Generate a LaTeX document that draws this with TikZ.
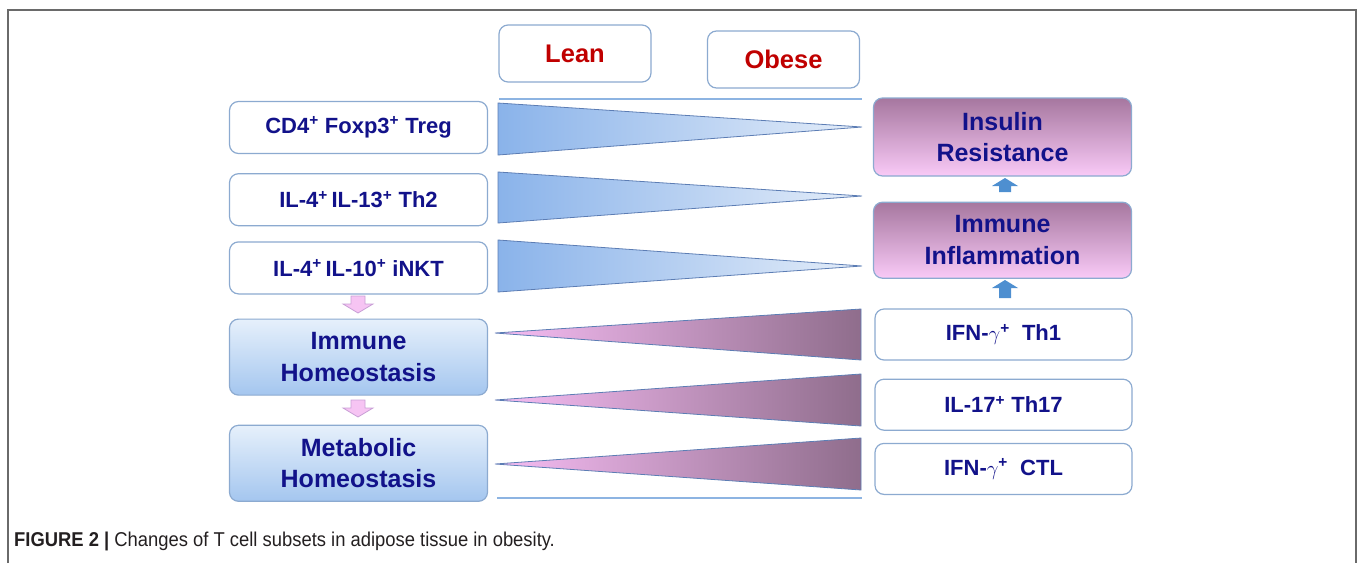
\documentclass[tikz,border=0pt]{standalone}
\usepackage{fontspec}
\setmainfont{Liberation Sans}
\newfontfamily\capfont[FakeStretch=0.92]{Liberation Sans}
\definecolor{navytext}{HTML}{12128A}
\definecolor{leanred}{HTML}{C00000}
\definecolor{boxedge}{HTML}{8CAAD0}
\definecolor{rulegray}{HTML}{6A6A6A}
\definecolor{skyline}{HTML}{8DB4E2}
\definecolor{wedgeblue}{HTML}{8AB3EA}
\definecolor{wedgepale}{HTML}{E4EDF9}
\definecolor{wedgepink}{HTML}{F7BDF4}
\definecolor{wedgemauve}{HTML}{8F6D8C}
\definecolor{wedgeedge}{HTML}{5C7DB4}
\definecolor{homeotop}{HTML}{E6F0FB}
\definecolor{homeobot}{HTML}{A4C6EF}
\definecolor{resisttop}{HTML}{A6779F}
\definecolor{resistbot}{HTML}{F9CAF7}
\definecolor{arrowpink}{HTML}{F6C4F3}
\definecolor{arrowpinkedge}{HTML}{C9A0D6}
\definecolor{arrowblue}{HTML}{4E8FD0}
\definecolor{captext}{HTML}{231F20}
\usetikzlibrary{positioning,calc}

\tikzset{
  cellbox/.style={draw=boxedge, line width=1.2pt, rounded corners=9pt, fill=white,
    minimum width=258pt, minimum height=52pt, text=navytext, align=center,
    font=\bfseries\fontsize{22}{26}\selectfont},
  statebox/.style={cellbox, minimum width=152pt, minimum height=57pt, text=leanred,
    font=\bfseries\fontsize{25.5}{30}\selectfont},
  homeobox/.style={cellbox, top color=homeotop, bottom color=homeobot, minimum height=76pt,
    font=\bfseries\fontsize{25}{31.5}\selectfont},
  outcomebox/.style={homeobox, top color=resisttop, bottom color=resistbot},
}

\begin{document}
\begin{tikzpicture}[x=1pt,y=-1pt]
\useasboundingbox (0,0) rectangle (1357,563);
\draw[rulegray,line width=1.6pt] (8,563) -- (8,10) -- (1356,10) -- (1356,563);

% lean / obese headers
\node[statebox] (lean) at (575,53.5) {Lean};
\node[statebox] (obese) at (783.5,59.5) {Obese};
\draw[skyline,line width=1.3pt] (499,99) -- (862,99);
\draw[skyline,line width=1.3pt] (497,498) -- (862,498);

% left column
\node[cellbox] (treg) at (358.5,127.5) {CD4\textsuperscript{+} Foxp3\textsuperscript{+} Treg};
\node[cellbox, below=19pt of treg] (thtwo) {IL-4\textsuperscript{+}\,IL-13\textsuperscript{+} Th2};
\node[cellbox, below=15pt of thtwo] (inkt) {IL-4\textsuperscript{+}\,IL-10\textsuperscript{+} iNKT};
\node[homeobox, below=24pt of inkt] (immhomeo) {Immune\\Homeostasis};
\node[homeobox, below=29pt of immhomeo] (methomeo) {Metabolic\\Homeostasis};

% right column
\node[outcomebox, minimum height=78pt] (insulin) at (1002.5,137) {Insulin\\Resistance};
\node[outcomebox, below=25pt of insulin] (inflam) {Immune\\Inflammation};
\node[cellbox, minimum width=257pt, minimum height=51pt] (thone) at (1003.5,334.5) {IFN-$\gamma$\textsuperscript{+}\ \ Th1};
\node[cellbox, minimum width=257pt, minimum height=51pt, below=18pt of thone] (thseventeen) {IL-17\textsuperscript{+} Th17};
\node[cellbox, minimum width=257pt, minimum height=51pt, below=12pt of thseventeen] (ctl) {IFN-$\gamma$\textsuperscript{+}\ \ CTL};

% wedges
\foreach \t/\b/\a in {103/155/127, 172/223/196, 240/292/266}
  \draw[wedgeedge,line width=0.8pt,left color=wedgeblue,right color=wedgepale]
    (498,\t) -- (862,\a) -- (498,\b) -- cycle;
\foreach \t/\b/\a in {309/360/333, 374/426/400, 438/490/464}
  \draw[wedgeedge,line width=0.8pt,left color=wedgepink,right color=wedgemauve]
    (495,\a) -- (861,\t) -- (861,\b) -- cycle;

% block arrows
\foreach \ay in {296,400}
  \draw[arrowpinkedge,fill=arrowpink,line width=0.8pt]
    (351,\ay) -- (365,\ay) -- (365,\ay+8) -- (373,\ay+8) -- (358,\ay+17)
    -- (343,\ay+8) -- (351,\ay+8) -- cycle;
\foreach \at/\ab in {178/192, 280/298}
  \fill[arrowblue] (1005,\at) -- (1018,\at+8) -- (1011,\at+8) -- (1011,\ab)
    -- (999,\ab) -- (999,\at+8) -- (992,\at+8) -- cycle;

% caption
\node[anchor=base west,inner sep=0pt,text=captext,font=\capfont\fontsize{20}{24}\selectfont] (caption) at (14,546)
  {\textbf{FIGURE 2 |} Changes of T cell subsets in adipose tissue in obesity.};
\end{tikzpicture}
\end{document}
